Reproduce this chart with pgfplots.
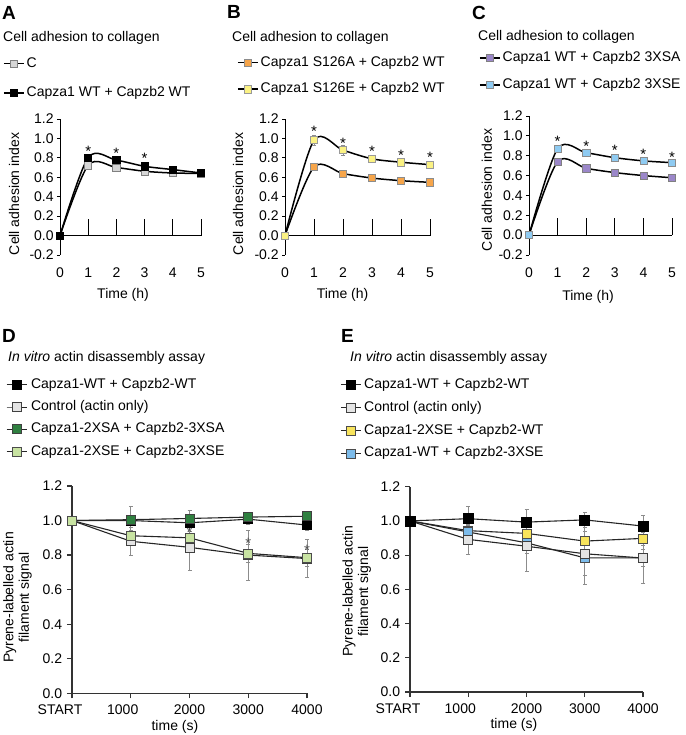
\documentclass[border=0pt]{standalone}
\usepackage{pgfplots}
\pgfplotsset{compat=1.18}
\usepackage{fontspec}
\setmainfont{Liberation Sans}
\pgfkeys{/pgf/number format/assume math mode=true}
\definecolor{cgray}{HTML}{D6D6D6}
\definecolor{corange}{HTML}{F6A54A}
\definecolor{cyellow}{HTML}{FBF283}
\definecolor{cpurple}{HTML}{9B87C9}
\definecolor{cblue}{HTML}{8FCBF2}
\definecolor{cctrl}{HTML}{E4E4E4}
\definecolor{cdgreen}{HTML}{2F8040}
\definecolor{clgreen}{HTML}{C8E3A2}
\definecolor{cyelE}{HTML}{F8E45C}
\definecolor{cblueE}{HTML}{7DBCEB}
\tikzset{
  ast/.style={anchor=base, inner sep=0pt, font=\fontsize{15}{15}\selectfont},
  astd/.style={anchor=base, inner sep=0pt, black!70, font=\fontsize{15}{15}\selectfont},
}
\pgfplotsset{
  legend image code/.code={\draw[mark repeat=2,mark phase=2,#1] plot coordinates {(0pt,0pt) (10pt,0pt) (20pt,0pt)};},
  legend cell align=left,
  legend style={draw=none, fill=none, inner sep=0pt, anchor=north west, column sep=2pt,
     nodes={inner sep=0pt, text height=10pt, text depth=3pt}},
  panelabc/.style={scale only axis, clip=false, xmin=0, xmax=5, ymin=-0.2, ymax=1.2,
    axis y line=left, axis x line=bottom,
    y axis line style={-, line width=0.8pt},
    x axis line style={draw=none},
    xtick={0,1,2,3,4,5}, xtick style={draw=none},
    ytick={-0.2,0,0.2,0.4,0.6,0.8,1,1.2},
    y tick label style={/pgf/number format/fixed, /pgf/number format/fixed zerofill, /pgf/number format/precision=1, xshift=1.5pt},
    tick align=outside, major tick length=3pt, ytick style={line width=0.8pt, black},
    x tick label style={yshift=-5pt},
    xlabel={Time (h)}, ylabel={Cell adhesion index}},
  panelde/.style={scale only axis, clip=false, xmin=0, xmax=4000, ymin=0, ymax=1.2,
    axis x line=bottom, axis y line=left,
    axis line style={-, line width=1.2pt, black!80},
    tick align=outside, major tick length=5pt, tick style={line width=1.2pt, black!80},
    xtick={0,1000,2000,3000,4000},
    xticklabels={START\hspace*{24pt},1000\hspace*{16pt},2000,3000,4000},
    ytick={0,0.2,0.4,0.6,0.8,1,1.2},
    y tick label style={/pgf/number format/fixed, /pgf/number format/fixed zerofill, /pgf/number format/precision=1},
    x tick label style={yshift=-2pt},
    xlabel={time (s)}, ylabel={Pyrene-labelled actin\\filament signal},
    ylabel style={align=center, font=\fontsize{14}{15.5}\selectfont}},
  sabc/.style={black, line width=1.5pt, mark=square*, mark size=3.6pt},
  sde/.style={black!85, line width=1.1pt, mark=square*, mark size=4.5pt},
  ebar/.style={error bars/.cd, y dir=both, y explicit,
    error bar style={line width=0.6pt, black!45},
    error mark options={rotate=90, mark size=2pt, line width=0.6pt, black!45}},
}
\newcommand\xaxisabc{%
\draw[line width=0.8pt] (axis cs:0,0) -- (axis cs:5,0);
\draw[line width=0.8pt] (axis cs:1,0) -- ++(0,-3pt);
\draw[line width=0.8pt] (axis cs:2,0) -- ++(0,-3pt);
\draw[line width=0.8pt] (axis cs:3,0) -- ++(0,-3pt);
\draw[line width=0.8pt] (axis cs:4,0) -- ++(0,-3pt);
\draw[line width=0.8pt] (axis cs:5,0) -- ++(0,-3pt);}
\begin{document}
\fontsize{14}{16.5}\selectfont
\begin{tikzpicture}
\path[use as bounding box] (0pt,0pt) rectangle (685pt,735pt);
% panel letters and titles
\node[anchor=base west, font=\bfseries\fontsize{19}{19}\selectfont, inner sep=0pt] at (2pt,715pt) {A};
\node[anchor=base west, font=\bfseries\fontsize{19}{19}\selectfont, inner sep=0pt] at (227pt,716pt) {B};
\node[anchor=base west, font=\bfseries\fontsize{19}{19}\selectfont, inner sep=0pt] at (472pt,715.5pt) {C};
\node[anchor=base west, font=\bfseries\fontsize{19}{19}\selectfont, inner sep=0pt] at (2pt,392pt) {D};
\node[anchor=base west, font=\bfseries\fontsize{19}{19}\selectfont, inner sep=0pt] at (341pt,392pt) {E};
\node[anchor=base west, inner sep=0pt] at (3pt,693.5pt) {Cell adhesion to collagen};
\node[anchor=base west, inner sep=0pt] at (232pt,693.5pt) {Cell adhesion to collagen};
\node[anchor=base west, inner sep=0pt] at (478pt,694pt) {Cell adhesion to collagen};
\node[anchor=base west, inner sep=0pt] at (8pt,373pt) {\textit{In vitro} actin disassembly assay};
\node[anchor=base west, inner sep=0pt] at (350pt,373.3pt) {\textit{In vitro} actin disassembly assay};

% ---------------- A ----------------
\begin{axis}[panelabc, at={(60pt,480pt)}, anchor=south west, width=141pt, height=136pt,
  xlabel style={at={(axis description cs:0.447,-0.294)}, anchor=center},
  ylabel style={at={(axis description cs:-0.326,0.449)}, anchor=center},
  legend style={at={(axis description cs:-0.404,1.456)}, row sep=16.5pt}]
\xaxisabc
\addlegendimage{sabc, mark options={solid, line width=0.6pt, draw=black!50, fill=cgray}}
\addlegendentry{C}
\addlegendimage{sabc, mark options={solid, line width=0.6pt, draw=black, fill=black}}
\addlegendentry{Capza1 WT + Capzb2 WT}
\addplot[sabc, smooth, forget plot, mark options={solid, line width=0.6pt, draw=black!50, fill=cgray}]
  coordinates {(0,0) (1,0.724) (2,0.700) (3,0.662) (4,0.644) (5,0.640)};
\addplot[sabc, smooth, forget plot, mark options={solid, line width=0.6pt, draw=black, fill=black}]
  coordinates {(0,0) (1,0.803) (2,0.776) (3,0.713) (4,0.679) (5,0.644)};
\node[ast] at (axis cs:1,0.814) {*};
\node[ast] at (axis cs:2,0.790) {*};
\node[ast] at (axis cs:3,0.737) {*};
\end{axis}

% ---------------- B ----------------
\begin{axis}[panelabc, at={(285pt,480pt)}, anchor=south west, width=145pt, height=136pt,
  xlabel style={at={(axis description cs:0.397,-0.294)}, anchor=center},
  ylabel style={at={(axis description cs:-0.324,0.449)}, anchor=center},
  legend style={at={(axis description cs:-0.331,1.463)}, row sep=13.5pt}]
\xaxisabc
\addlegendimage{sabc, mark options={solid, line width=0.6pt, draw=black!45, fill=corange}}
\addlegendentry{Capza1 S126A + Capzb2 WT}
\addlegendimage{sabc, mark options={solid, line width=0.6pt, draw=black!40, fill=cyellow}}
\addlegendentry{Capza1 S126E + Capzb2 WT}
\addplot[sabc, smooth, forget plot, mark options={solid, line width=0.6pt, draw=black!45, fill=corange}, ebar]
  coordinates {(0,0) +- (0,0) (1,0.706) +- (0,0.02) (2,0.638) +- (0,0.02) (3,0.592) +- (0,0.02) (4,0.565) +- (0,0.02) (5,0.548) +- (0,0.02)};
\addplot[sabc, smooth, forget plot, mark options={solid, line width=0.6pt, draw=black!40, fill=cyellow}, ebar]
  coordinates {(0,0) +- (0,0) (1,0.982) +- (0,0.05) (2,0.879) +- (0,0.05) (3,0.790) +- (0,0.04) (4,0.755) +- (0,0.04) (5,0.730) +- (0,0.03)};
\node[ast] at (axis cs:1,1.02) {*};
\node[ast] at (axis cs:2,0.90) {*};
\node[ast] at (axis cs:3,0.81) {*};
\node[ast] at (axis cs:4,0.77) {*};
\node[ast] at (axis cs:5,0.75) {*};
\end{axis}

% ---------------- C ----------------
\begin{axis}[panelabc, at={(529pt,480pt)}, anchor=south west, width=143pt, height=139pt,
  xlabel style={at={(axis description cs:0.413,-0.30)}, anchor=center},
  ylabel style={at={(axis description cs:-0.294,0.468)}, anchor=center},
  legend style={at={(axis description cs:-0.35,1.465)}, row sep=13.7pt}]
\xaxisabc
\addlegendimage{sabc, mark options={solid, line width=0.6pt, draw=black!50, fill=cpurple}}
\addlegendentry{Capza1 WT + Capzb2 3XSA}
\addlegendimage{sabc, mark options={solid, line width=0.6pt, draw=black!45, fill=cblue}}
\addlegendentry{Capza1 WT + Capzb2 3XSE}
\addplot[sabc, smooth, forget plot, mark options={solid, line width=0.6pt, draw=black!50, fill=cpurple}]
  coordinates {(0,0) (1,0.740) (2,0.673) (3,0.630) (4,0.600) (5,0.578)};
\addplot[sabc, smooth, forget plot, mark options={solid, line width=0.6pt, draw=black!45, fill=cblue}]
  coordinates {(0,0) (1,0.870) (2,0.830) (3,0.780) (4,0.748) (5,0.730)};
\node[ast] at (axis cs:1,0.888) {*};
\node[ast] at (axis cs:2,0.847) {*};
\node[ast] at (axis cs:3,0.800) {*};
\node[ast] at (axis cs:4,0.760) {*};
\node[ast] at (axis cs:5,0.735) {*};
\end{axis}

% ---------------- D ----------------
\begin{axis}[panelde, at={(72pt,41.7pt)}, anchor=south west, width=235pt, height=207.3pt,
  xlabel style={at={(axis description cs:0.438,-0.161)}, anchor=center},
  ylabel style={at={(axis description cs:-0.232,0.462)}, anchor=center},
  legend style={at={(axis description cs:-0.281,1.521)}, row sep=9.3pt, column sep=4pt}]
\addlegendimage{sde, line width=0.9pt, mark options={solid, line width=0.6pt, draw=black, fill=black}}
\addlegendentry{Capza1-WT + Capzb2-WT}
\addlegendimage{sde, line width=0.9pt, mark options={solid, line width=0.6pt, draw=black!75, fill=cctrl}}
\addlegendentry{Control (actin only)}
\addlegendimage{sde, line width=0.9pt, mark options={solid, line width=0.6pt, draw=black!75, fill=cdgreen}}
\addlegendentry{Capza1-2XSA + Capzb2-3XSA}
\addlegendimage{sde, line width=0.9pt, mark options={solid, line width=0.6pt, draw=black!70, fill=clgreen}}
\addlegendentry{Capza1-2XSE + Capzb2-3XSE}
\addplot[sde, forget plot, mark options={solid, line width=0.6pt, draw=black, fill=black}, ebar]
  coordinates {(0,1.0) +- (0,0) (1000,1.0) +- (0,0.08) (2000,0.987) +- (0,0.07) (3000,1.008) +- (0,0.03) (4000,0.974) +- (0,0.03)};
\addplot[sde, forget plot, mark options={solid, line width=0.6pt, draw=black!75, fill=cctrl}, ebar]
  coordinates {(0,1.0) +- (0,0) (1000,0.88) +- (0,0.08) (2000,0.845) +- (0,0.135) (3000,0.80) +- (0,0.145) (4000,0.78) +- (0,0.11)};
\addplot[sde, forget plot, mark options={solid, line width=0.6pt, draw=black!75, fill=cdgreen}, ebar]
  coordinates {(0,1.0) +- (0,0) (1000,1.005) +- (0,0.02) (2000,1.012) +- (0,0.05) (3000,1.02) +- (0,0.01) (4000,1.025) +- (0,0.01)};
\addplot[sde, forget plot, mark options={solid, line width=0.6pt, draw=black!70, fill=clgreen}, ebar]
  coordinates {(0,1.0) +- (0,0) (1000,0.912) +- (0,0.03) (2000,0.90) +- (0,0.04) (3000,0.81) +- (0,0.05) (4000,0.785) +- (0,0.05)};
\node[astd] at (axis cs:2000,0.90) {*};
\node[astd] at (axis cs:3000,0.837) {*};
\node[astd] at (axis cs:4000,0.80) {*};
\end{axis}

% ---------------- E ----------------
\begin{axis}[panelde, at={(410pt,43pt)}, anchor=south west, width=233pt, height=205.3pt,
  xlabel style={at={(axis description cs:0.446,-0.161)}, anchor=center},
  ylabel style={at={(axis description cs:-0.229,0.49)}, anchor=center},
  legend style={at={(axis description cs:-0.30,1.529)}, row sep=9.9pt, column sep=3pt}]
\addlegendimage{sde, line width=0.9pt, mark options={solid, line width=0.6pt, draw=black, fill=black}}
\addlegendentry{Capza1-WT + Capzb2-WT}
\addlegendimage{sde, line width=0.9pt, mark options={solid, line width=0.6pt, draw=black!75, fill=cctrl}}
\addlegendentry{Control (actin only)}
\addlegendimage{sde, line width=0.9pt, mark options={solid, line width=0.6pt, draw=black!70, fill=cyelE}}
\addlegendentry{Capza1-2XSE + Capzb2-WT}
\addlegendimage{sde, line width=0.9pt, mark options={solid, line width=0.6pt, draw=black!70, fill=cblueE}}
\addlegendentry{Capza1-WT + Capzb2-3XSE}
\addplot[sde, forget plot, mark options={solid, line width=0.6pt, draw=black!70, fill=cyelE}, ebar]
  coordinates {(0,1.0) +- (0,0) (1000,0.943) +- (0,0.03) (2000,0.927) +- (0,0.04) (3000,0.882) +- (0,0.06) (4000,0.898) +- (0,0.04)};
\addplot[sde, forget plot, mark options={solid, line width=0.6pt, draw=black!70, fill=cblueE}, ebar]
  coordinates {(0,1.0) +- (0,0) (1000,0.935) +- (0,0.04) (2000,0.872) +- (0,0.06) (3000,0.784) +- (0,0.10) (4000,0.784) +- (0,0.05)};
\addplot[sde, forget plot, mark options={solid, line width=0.6pt, draw=black!75, fill=cctrl}, ebar]
  coordinates {(0,1.0) +- (0,0) (1000,0.892) +- (0,0.09) (2000,0.852) +- (0,0.145) (3000,0.808) +- (0,0.18) (4000,0.783) +- (0,0.15)};
\addplot[sde, mark size=5pt, forget plot, mark options={solid, line width=0.6pt, draw=black, fill=black}, ebar]
  coordinates {(0,1.0) +- (0,0) (1000,1.013) +- (0,0.07) (2000,0.993) +- (0,0.075) (3000,1.006) +- (0,0.045) (4000,0.97) +- (0,0.06)};
\end{axis}
\end{tikzpicture}
\end{document}
